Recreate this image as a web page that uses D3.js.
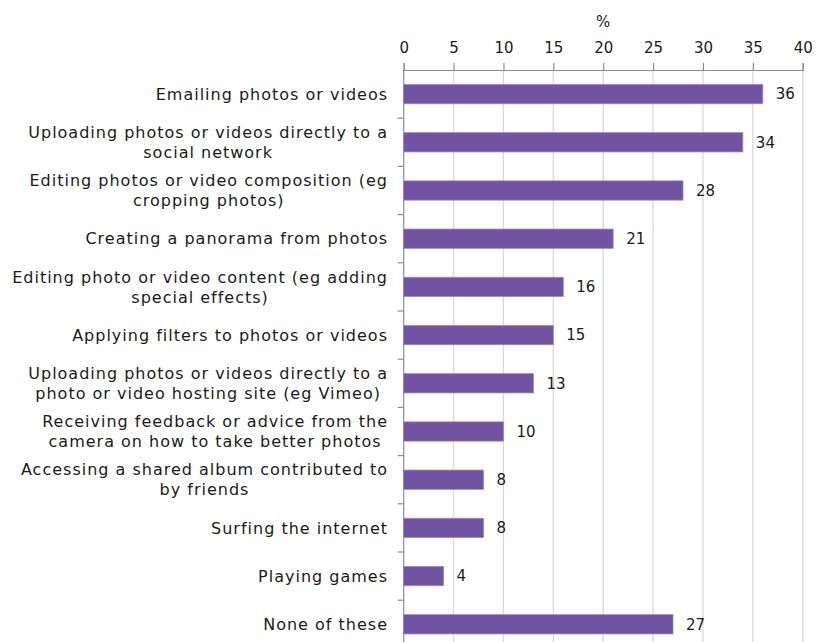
<!DOCTYPE html>
<html>
<head>
<meta charset="utf-8">
<script src="https://cdn.jsdelivr.net/npm/d3@7"></script>
<style>
  html, body { margin: 0; padding: 0; background: #ffffff; }
  svg { display: block; }
  text { font-family: "DejaVu Sans", Verdana, sans-serif; fill: #1a1a1a; }
</style>
</head>
<body>
<svg id="chart" width="816" height="642"></svg>
<script>
// Activities carried out with a camera (percent of respondents)
const categories = [
  ["Emailing photos or videos"],
  ["Uploading photos or videos directly to a", "social network"],
  ["Editing photos or video composition (eg", "cropping photos)"],
  ["Creating a panorama from photos"],
  ["Editing photo or video content (eg adding", "special effects)"],
  ["Applying filters to photos or videos"],
  ["Uploading photos or videos directly to a", "photo or video hosting site (eg Vimeo)"],
  ["Receiving feedback or advice from the", "camera on how to take better photos"],
  ["Accessing a shared album contributed to", "by friends"],
  ["Surfing the internet"],
  ["Playing games"],
  ["None of these"]
];
const values = [36, 34, 28, 21, 16, 15, 13, 10, 8, 8, 4, 27];
const xTicks = [0, 5, 10, 15, 20, 25, 30, 35, 40];
const axisTitle = "%";

const svg = d3.select("#chart");
const plotLeft = 403.7, plotRight = 802.7, plotTop = 70, plotBottom = 648.4;
const fontSize = 15;
const labelFontSize = 16;
const labelSpacing = 1;

const x = d3.scaleLinear().domain([0, 40]).range([plotLeft, plotRight]);
const y = d3.scaleBand()
  .domain(d3.range(categories.length))
  .range([plotTop, plotBottom])
  .paddingInner(0.6)
  .paddingOuter(0.3);

// vertical gridlines
svg.append("g")
  .selectAll("line")
  .data(xTicks.slice(1))
  .join("line")
  .attr("x1", d => x(d)).attr("x2", d => x(d))
  .attr("y1", plotTop).attr("y2", plotBottom)
  .attr("stroke", "#d9d9d9")
  .attr("stroke-width", 1.3);

// top value axis
const xAxis = svg.append("g")
  .attr("transform", `translate(0,${plotTop})`)
  .call(d3.axisTop(x).tickValues(xTicks).tickSize(7).tickPadding(10).tickFormat(d3.format("d")));
xAxis.select(".domain").attr("stroke", "#8c8c8c").attr("stroke-width", 1.2);
xAxis.selectAll(".tick line").attr("stroke", "#8c8c8c").attr("stroke-width", 1.2);
xAxis.selectAll(".tick text")
  .attr("font-size", fontSize)
  .attr("font-family", "DejaVu Sans, Verdana, sans-serif")
  .attr("fill", "#1a1a1a");

svg.append("text")
  .attr("x", x(20))
  .attr("y", 27)
  .attr("text-anchor", "middle")
  .attr("font-size", fontSize)
  .text(axisTitle);

// left category axis: line with ticks at band boundaries
const step = y.step();
const boundaries = d3.range(1, categories.length + 1).map(i => y(i - 1) + y.bandwidth() + step * 0.6 / 2);
svg.append("line")
  .attr("x1", plotLeft).attr("x2", plotLeft)
  .attr("y1", plotTop).attr("y2", plotBottom)
  .attr("stroke", "#8c8c8c").attr("stroke-width", 1.2);
svg.append("g")
  .selectAll("line")
  .data(boundaries)
  .join("line")
  .attr("x1", plotLeft - 6).attr("x2", plotLeft)
  .attr("y1", d => d).attr("y2", d => d)
  .attr("stroke", "#8c8c8c").attr("stroke-width", 1.2);

// bars
svg.append("g")
  .selectAll("rect")
  .data(values)
  .join("rect")
  .attr("x", x(0))
  .attr("y", (d, i) => y(i))
  .attr("width", d => x(d) - x(0))
  .attr("height", y.bandwidth())
  .attr("fill", "#7153A1")
  .attr("stroke", "#9C86C2")
  .attr("stroke-width", 0.8);

// value labels
svg.append("g")
  .selectAll("text")
  .data(values)
  .join("text")
  .attr("x", d => x(d) + 13)
  .attr("y", (d, i) => y(i) + y.bandwidth() / 2)
  .attr("dy", "0.35em")
  .attr("font-size", fontSize)
  .text(d => d);

// category labels, wrapped lines centred within a right-aligned block
const labelRight = 387;
const lineH = 20;
const labelG = svg.append("g");
categories.forEach((lines, i) => {
  const cy = y(i) + y.bandwidth() / 2;
  const t = labelG.append("text")
    .attr("font-size", labelFontSize)
    .attr("letter-spacing", labelSpacing)
    .attr("text-anchor", "start");
  const spans = lines.map((ln, j) =>
    t.append("tspan")
      .attr("y", cy + (j - (lines.length - 1) / 2) * lineH)
      .attr("dy", "0.35em")
      .text(ln)
  );
  const widths = spans.map(s => s.node().getComputedTextLength() - labelSpacing);
  const w = d3.max(widths);
  spans.forEach((s, j) => s.attr("x", labelRight - w / 2 - widths[j] / 2));
});
</script>
</body>
</html>
